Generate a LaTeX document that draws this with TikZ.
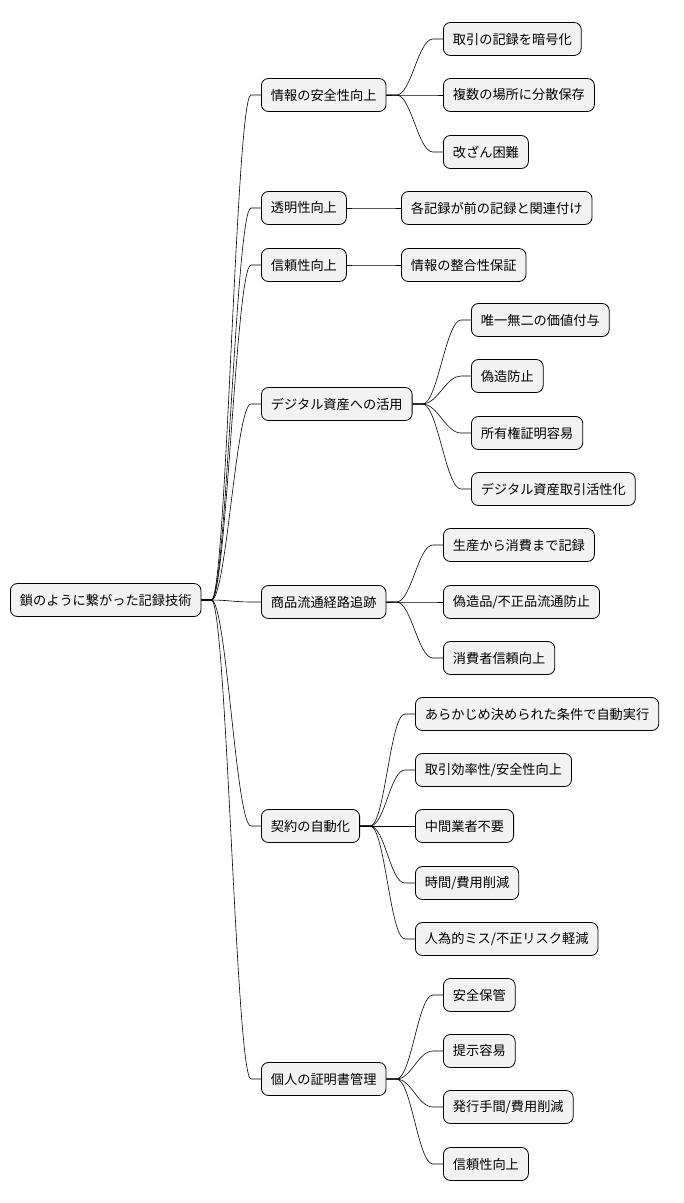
\documentclass[tikz,border=0pt]{standalone}
\usepackage{fontspec}
\setmainfont{Noto Sans CJK JP}
\begin{document}
\begin{tikzpicture}[x=1pt,y=-1pt,
  box/.style={draw=black,fill=black!5,rounded corners=7pt,anchor=west,minimum height=33pt,inner xsep=9.5pt,font=\fontsize{13.2}{16}\selectfont,line width=0.8pt},
  link/.style={draw=black,line width=0.6pt}]
\useasboundingbox (0,0) rectangle (684,1203);
\node[box] (r) at (10,600) {鎖のように繋がった記録技術};
\node[box] (a) at (261,95) {情報の安全性向上};
\node[box] (b) at (261,208) {透明性向上};
\node[box] (c) at (261,265) {信頼性向上};
\node[box] (d) at (261,404) {デジタル資産への活用};
\node[box] (e) at (261,602) {商品流通経路追跡};
\node[box] (f) at (261,826) {契約の自動化};
\node[box] (g) at (261,1079) {個人の証明書管理};
\node[box] (a1) at (443,39) {取引の記録を暗号化};
\node[box] (a2) at (443,95) {複数の場所に分散保存};
\node[box] (a3) at (443,152) {改ざん困難};
\node[box] (b1) at (401,208) {各記録が前の記録と関連付け};
\node[box] (c1) at (401,265) {情報の整合性保証};
\node[box] (d1) at (471,320) {唯一無二の価値付与};
\node[box] (d2) at (471,376) {偽造防止};
\node[box] (d3) at (471,433) {所有権証明容易};
\node[box] (d4) at (471,489) {デジタル資産取引活性化};
\node[box] (e1) at (443,545) {生産から消費まで記録};
\node[box] (e2) at (443,602) {偽造品/不正品流通防止};
\node[box] (e3) at (443,658) {消費者信頼向上};
\node[box] (f1) at (415,714) {あらかじめ決められた条件で自動実行};
\node[box] (f2) at (415,770) {取引効率性/安全性向上};
\node[box] (f3) at (415,826) {中間業者不要};
\node[box] (f4) at (415,883) {時間/費用削減};
\node[box] (f5) at (415,939) {人為的ミス/不正リスク軽減};
\node[box] (g1) at (443,995) {安全保管};
\node[box] (g2) at (443,1051) {提示容易};
\node[box] (g3) at (443,1107) {発行手間/費用削減};
\node[box] (g4) at (443,1164) {信頼性向上};
\foreach \p/\c in {r/a,r/b,r/c,r/d,r/e,r/f,r/g,a/a1,a/a2,a/a3,b/b1,c/c1,d/d1,d/d2,d/d3,d/d4,e/e1,e/e2,e/e3,f/f1,f/f2,f/f3,f/f4,f/f5,g/g1,g/g2,g/g3,g/g4}
  \draw[link] (\p.east) -- ++(10,0) .. controls +(15,0) and ([xshift=-25]\c.west) .. ([xshift=-10]\c.west) -- (\c.west);
\end{tikzpicture}
\end{document}
